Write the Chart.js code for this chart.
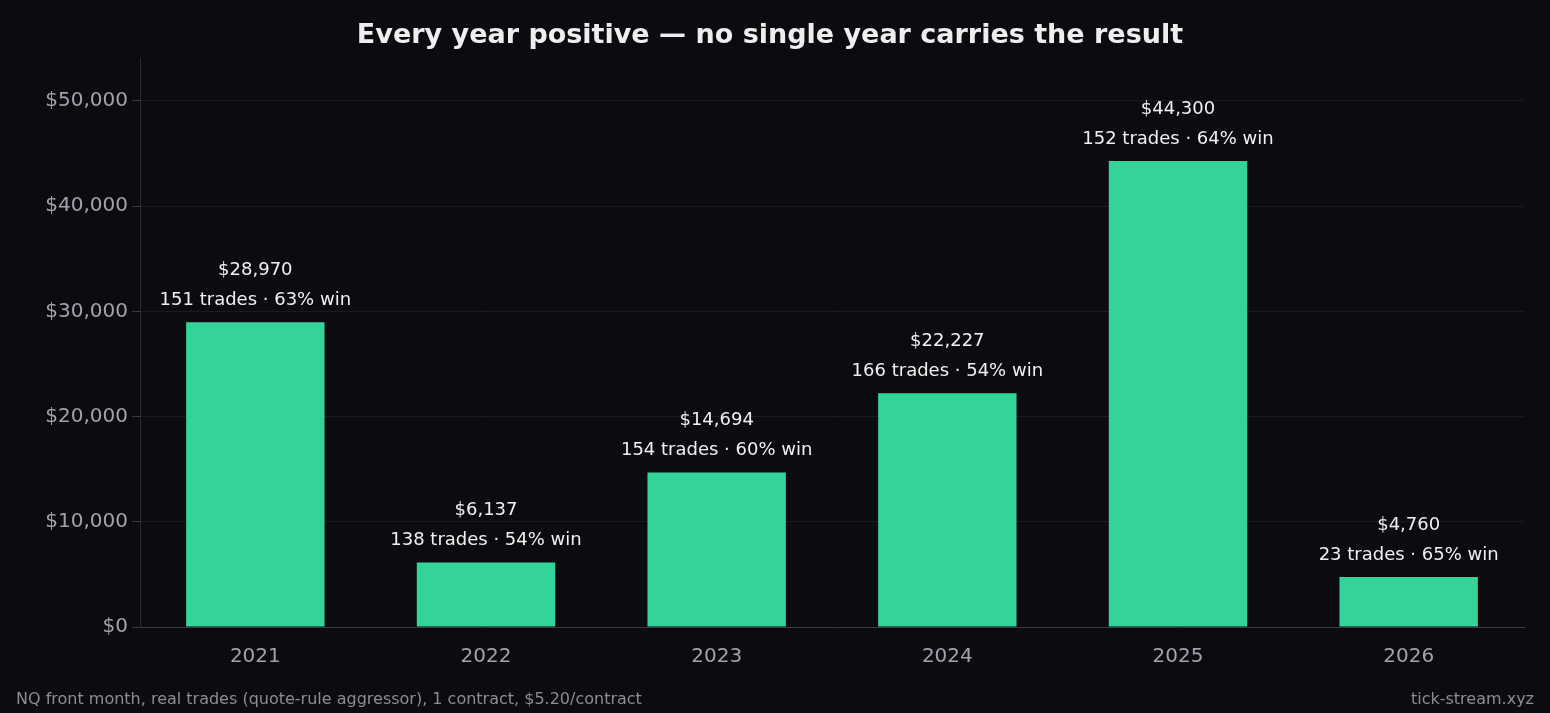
<!DOCTYPE html>
<html><head><meta charset="utf-8">
<script src="https://cdn.jsdelivr.net/npm/chart.js@4/dist/chart.umd.min.js"></script>
<style>html,body{margin:0;background:#0c0c10;}#w{position:relative;width:1550px;height:713px;}</style>
</head><body><div id="w"><canvas id="c" width="1550" height="713"></canvas></div>
<script>
const years = ["2021","2022","2023","2024","2025","2026"];
const pnl = [28970, 6137, 14694, 22227, 44300, 4760];
const trades = [151, 138, 154, 166, 152, 23];
const winPct = [63, 54, 60, 54, 64, 65];
const yTicks = [0, 10000, 20000, 30000, 40000, 50000];
const FONT = "'DejaVu Sans', sans-serif";
Chart.defaults.font.family = FONT;
const fmt = v => "$" + v.toLocaleString("en-US");

const labelPlugin = {
  id: "lbl",
  afterDatasetsDraw(ch) {
    const ctx = ch.ctx, meta = ch.getDatasetMeta(0);
    ctx.save();
    ctx.fillStyle = "#f0f0f0";
    ctx.textAlign = "center";
    ctx.textBaseline = "alphabetic";
    ctx.font = "18px " + FONT;
    meta.data.forEach((b, i) => {
      ctx.fillText(fmt(pnl[i]), b.x, b.y - 47);
      ctx.fillText(trades[i] + " trades · " + winPct[i] + "% win", b.x, b.y - 17);
    });
    ctx.font = "16px " + FONT;
    ctx.fillStyle = "#8a8d95";
    ctx.textAlign = "left";
    ctx.fillText("NQ front month, real trades (quote-rule aggressor), 1 contract, $5.20/contract", 16, 704);
    ctx.textAlign = "right";
    ctx.fillText("tick-stream.xyz", 1534, 704);
    ctx.restore();
  }
};

new Chart(document.getElementById("c"), {
  type: "bar",
  data: { labels: years, datasets: [{ data: pnl, backgroundColor: "#34d399", categoryPercentage: 1, barPercentage: 0.6 }] },
  options: {
    responsive: false, animation: false,
    layout: { padding: { left: 16, right: 26, top: 0, bottom: 46 } },
    plugins: {
      legend: { display: false }, tooltip: { enabled: false },
      title: { display: true, text: "Every year positive — no single year carries the result",
        color: "#eeeeee", font: { family: FONT, size: 27, weight: "bold" }, padding: { top: 20, bottom: 6 } }
    },
    scales: {
      x: { grid: { display: false }, border: { color: "#3a3b40" },
        afterFit: s => { s.height = 40; },
        ticks: { color: "#a0a3ab", font: { family: FONT, size: 20 }, padding: 10 } },
      y: { min: 0, max: 54046, afterBuildTicks: a => { a.ticks = yTicks.map(v => ({ value: v })); },
        afterFit: s => { s.width = 124; },
        grid: { color: "#1a1b20", tickLength: 8, tickColor: "#3a3b40" }, border: { color: "#2a2b30" },
        ticks: { color: "#a0a3ab", font: { family: FONT, size: 20 }, padding: 4, callback: v => fmt(v) } }
    }
  },
  plugins: [labelPlugin]
});
</script></body></html>
